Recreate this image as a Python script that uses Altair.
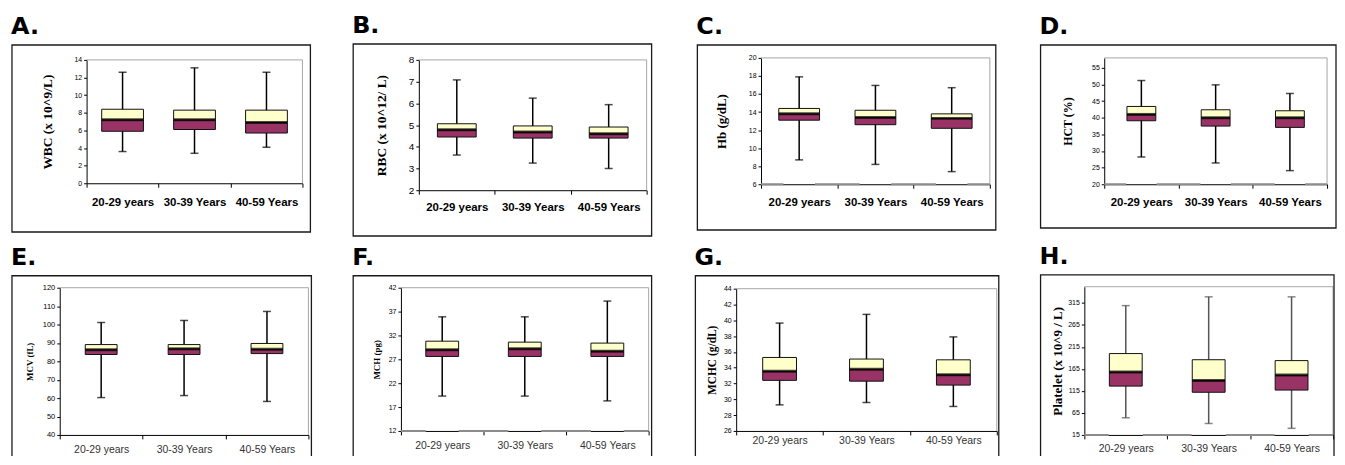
import altair as alt
import pandas as pd

groups = ["20-29 years", "30-39 Years", "40-59 Years"]

# A. WBC
wbc_min = [3.6, 3.4, 4.1]
wbc_q1 = [5.9, 6.1, 5.7]
wbc_med = [7.2, 7.2, 6.9]
wbc_q3 = [8.4, 8.3, 8.3]
wbc_max = [12.6, 13.1, 12.6]
wbc_ticks = [0, 2, 4, 6, 8, 10, 12, 14]

# B. RBC
rbc_min = [3.62, 3.25, 3.0]
rbc_q1 = [4.45, 4.40, 4.40]
rbc_med = [4.78, 4.68, 4.60]
rbc_q3 = [5.06, 4.96, 4.91]
rbc_max = [7.08, 6.24, 5.94]
rbc_ticks = [2, 3, 4, 5, 6, 7, 8]

# C. Hb
hb_min = [8.7, 8.2, 7.4]
hb_q1 = [13.1, 12.6, 12.2]
hb_med = [13.8, 13.4, 13.3]
hb_q3 = [14.4, 14.2, 13.8]
hb_max = [17.9, 16.95, 16.7]
hb_ticks = [6, 8, 10, 12, 14, 16, 18, 20]

# D. HCT
hct_min = [28.2, 26.4, 24.1]
hct_q1 = [39.1, 37.5, 37.1]
hct_med = [41.0, 40.0, 40.0]
hct_q3 = [43.4, 42.4, 42.1]
hct_max = [51.2, 49.9, 47.3]
hct_ticks = [20, 25, 30, 35, 40, 45, 50, 55]

# E. MCV
mcv_min = [60.3, 61.4, 58.2]
mcv_q1 = [83.7, 83.7, 84.2]
mcv_med = [86.3, 86.8, 86.5]
mcv_q3 = [89.1, 89.1, 89.7]
mcv_max = [101.1, 102.2, 107.1]
mcv_ticks = [40, 50, 60, 70, 80, 90, 100, 110, 120]

# F. MCH
mch_min = [19.3, 19.3, 18.3]
mch_q1 = [27.6, 27.6, 27.6]
mch_med = [29.0, 29.2, 28.7]
mch_q3 = [30.8, 30.6, 30.4]
mch_max = [35.9, 35.9, 39.2]
mch_ticks = [12, 17, 22, 27, 32, 37, 42]

# G. MCHC
mchc_min = [29.3, 29.6, 29.1]
mchc_q1 = [32.4, 32.3, 31.8]
mchc_med = [33.55, 33.8, 33.1]
mchc_q3 = [35.3, 35.1, 35.0]
mchc_max = [39.65, 40.75, 37.9]
mchc_ticks = [26, 28, 30, 32, 34, 36, 38, 40, 42, 44]

# H. Platelet
plt_min = [54, 41, 30]
plt_q1 = [126, 112, 117]
plt_med = [158, 139, 151]
plt_q3 = [200, 186, 184]
plt_max = [309, 329, 329]
plt_ticks = [15, 65, 115, 165, 215, 265, 315]

PURPLE = "#993366"
YELLOW = "#FFFFCC"
W, H = 1336, 448

# layout (pixels): plot box l, r, t, b and outer frame fl, ft, fr, fb (fb=None -> open bottom)
panels = [
    dict(letter="A.", title="WBC (x 10^9/L)", s=(wbc_min, wbc_q1, wbc_med, wbc_q3, wbc_max),
         dom=[0, 14], ticks=wbc_ticks, l=79, r=296, t=51, b=175, fl=4, ft=36, fr=304, fb=224,
         tx=39, tfs=13.5, lfs=7, bw=42, xpad=9, dash=None, top=True),
    dict(letter="B.", title="RBC (x 10^12/ L)", s=(rbc_min, rbc_q1, rbc_med, rbc_q3, rbc_max),
         dom=[2, 8], ticks=rbc_ticks, l=413, r=642, t=51, b=182, fl=347, ft=35, fr=647, fb=228,
         tx=38, tfs=13.5, lfs=10, bw=39, xpad=7, dash=None, top=True),
    dict(letter="C.", title="Hb (g/dL)", s=(hb_min, hb_q1, hb_med, hb_q3, hb_max),
         dom=[6, 20], ticks=hb_ticks, l=757, r=987, t=49, b=176, fl=693, ft=36, fr=993, fb=222,
         tx=40, tfs=13, lfs=7, bw=41, xpad=8, dash=45, top=True),
    dict(letter="D.", title="HCT (%)", s=(hct_min, hct_q1, hct_med, hct_q3, hct_max),
         dom=[20, 58], ticks=hct_ticks, l=1102, r=1326, t=49, b=176, fl=1038, ft=36, fr=1335, fb=220,
         tx=37, tfs=12, lfs=7, bw=29, xpad=8, dash=44, top=True),
    dict(letter="E.", title="MCV (fL)", s=(mcv_min, mcv_q1, mcv_med, mcv_q3, mcv_max),
         dom=[40, 120], ticks=mcv_ticks, l=52, r=302, t=280, b=428, fl=4, ft=268, fr=305, fb=None,
         tx=30, tfs=9, lfs=7.5, bw=32, xpad=6, dash=None, top=False),
    dict(letter="F.", title="MCH (pg)", s=(mch_min, mch_q1, mch_med, mch_q3, mch_max),
         dom=[12, 42], ticks=mch_ticks, l=395, r=644, t=280, b=424, fl=347, ft=268, fr=647, fb=None,
         tx=25, tfs=9, lfs=7, bw=33, xpad=6, dash=50, top=False),
    dict(letter="G.", title="MCHC (g/dL)", s=(mchc_min, mchc_q1, mchc_med, mchc_q3, mchc_max),
         dom=[26, 44], ticks=mchc_ticks, l=732, r=994, t=281, b=424, fl=691, ft=268, fr=996, fb=None,
         tx=24, tfs=11.5, lfs=7, bw=34, xpad=1, dash=None, top=False),
    dict(letter="H.", title="Platelet (x 10^9 / L)", s=(plt_min, plt_q1, plt_med, plt_q3, plt_max),
         dom=[15, 352], ticks=plt_ticks, l=1082, r=1332, t=279, b=428, fl=1038, ft=267, fr=1333, fb=None,
         tx=27, tfs=13, lfs=7, bw=33, xpad=5, dash=49, top=False),
]

one = pd.DataFrame({"k": [0]})


def panel(c):
    mn, q1, md, q3, mx = c["s"]
    top = c["top"]
    df = pd.DataFrame({"group": groups, "lo": mn, "q1": q1, "med": md, "q3": q3, "hi": mx})
    xs = alt.Scale(domain=groups, range=[c["l"], c["r"]], paddingInner=0, paddingOuter=0)
    ys = alt.Scale(domain=c["dom"], range=[c["b"], c["t"]], nice=False, zero=False)
    xaxis = alt.Axis(orient="bottom", offset=c["b"] - H, title=None, labelAngle=0, tickBand="extent",
                     tickSize=4, tickColor="black", domainColor="black", labelFont="Liberation Sans",
                     labelFontSize=11.5 if top else 10.5,
                     labelFontWeight="bold" if top else "normal",
                     labelColor="black" if top else "#333333",
                     labelPadding=c["xpad"], grid=False)
    yaxis = alt.Axis(orient="left", offset=-c["l"], values=c["ticks"], title=c["title"], grid=False,
                     tickSize=3, tickColor="black", domainColor="black", labelFont="Liberation Sans",
                     labelFontSize=c["lfs"], labelColor="black", labelPadding=2,
                     titleFont="Liberation Serif", titleFontWeight="bold", titleFontSize=c["tfs"],
                     titleColor="black", titleAngle=270, titleX=-c["tx"], titleY=(c["t"] + c["b"]) / 2,
                     titleBaseline="middle", titleAlign="center")
    X = alt.X("group:N", scale=xs, axis=xaxis)

    def Y(f):
        return alt.Y(f, scale=ys, axis=yaxis)

    wcol = "#555555" if c["letter"] == "H." else "black"
    base = alt.Chart(df)
    whisk = base.mark_rule(color=wcol, strokeWidth=1.5).encode(x=X, y=Y("lo:Q"), y2="hi:Q")
    lower = base.mark_bar(size=c["bw"], fill=PURPLE, stroke="#111111", strokeWidth=1).encode(
        x=X, y=Y("q1:Q"), y2="med:Q")
    upper = base.mark_bar(size=c["bw"], fill=YELLOW, stroke="#111111", strokeWidth=1).encode(
        x=X, y=Y("med:Q"), y2="q3:Q")
    medl = base.mark_tick(color="black", thickness=3, size=c["bw"]).encode(x=X, y=Y("med:Q"))
    caplo = base.mark_tick(color=wcol, thickness=1.5, size=8).encode(x=X, y=Y("lo:Q"))
    caphi = base.mark_tick(color=wcol, thickness=1.5, size=8).encode(x=X, y=Y("hi:Q"))
    return alt.layer(whisk, lower, upper, medl, caplo, caphi)


def decorations(c):
    out = []
    l, r, t, b = c["l"], c["r"], c["t"], c["b"]
    # plot-area border (top and right, grey)
    out.append(alt.Chart(one).mark_rule(color="#a6a6a6", strokeWidth=1).encode(
        x=alt.value(l), x2=alt.value(r), y=alt.value(t)))
    out.append(alt.Chart(one).mark_rule(color="#a6a6a6", strokeWidth=1).encode(
        x=alt.value(r), y=alt.value(t), y2=alt.value(b)))
    if c["dash"]:
        seg = c["dash"]
        bwid = (r - l) / 3
        out.append(alt.Chart(one).mark_rule(color="#8c8c8c", strokeWidth=2,
                                            strokeDash=[seg, bwid - seg],
                                            strokeDashOffset=seg / 2).encode(
            x=alt.value(l), x2=alt.value(r), y=alt.value(b)))
    fb = c["fb"] if c["fb"] is not None else H + 20
    out.append(alt.Chart(one).mark_rect(fillOpacity=0, stroke="#1a1a1a", strokeWidth=1.3).encode(
        x=alt.value(c["fl"]), x2=alt.value(c["fr"]), y=alt.value(c["ft"]), y2=alt.value(fb)))
    out.append(alt.Chart(one).mark_text(text=c["letter"], font="DejaVu Sans", fontWeight="bold",
                                        fontSize=24, align="left", baseline="alphabetic",
                                        color="black").encode(
        x=alt.value(c["fl"] - 1), y=alt.value(c["ft"] - 11)))
    return out


deco = []
for c in panels:
    deco.extend(decorations(c))

chart = alt.layer(*[panel(c) for c in panels], *deco).resolve_scale(
    x="independent", y="independent").resolve_axis(x="independent", y="independent").properties(
    width=W, height=H, autosize="none", padding=0
).configure_view(stroke="transparent")

chart.save("out.html", embed_options={"renderer": "svg", "actions": False})
